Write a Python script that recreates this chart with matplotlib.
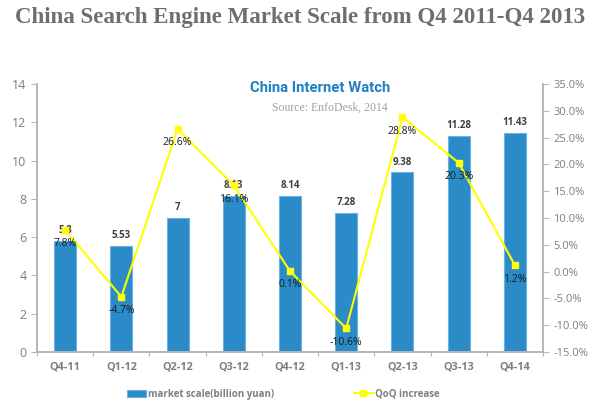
import matplotlib.pyplot as plt

# Data
quarters = ['Q4-11', 'Q1-12', 'Q2-12', 'Q3-12', 'Q4-12', 'Q1-13', 'Q2-13', 'Q3-13', 'Q4-14']
scale = [5.8, 5.53, 7, 8.13, 8.14, 7.28, 9.38, 11.28, 11.43]
scale_labels = ['5.8', '5.53', '7', '8.13', '8.14', '7.28', '9.38', '11.28', '11.43']
qoq = [7.8, -4.7, 26.6, 16.1, 0.1, -10.6, 28.8, 20.3, 1.2]
qoq_labels = ['7.8%', '-4.7%', '26.6%', '16.1%', '0.1%', '-10.6%', '28.8%', '20.3%', '1.2%']

BLUE = '#2a8bc8'
YELLOW = '#ffff00'
GREY = '#7f7f7f'
AXIS = '#b5b5b5'

plt.rcParams['font.family'] = ['Open Sans', 'DejaVu Sans']

fig = plt.figure(figsize=(6, 4.08), dpi=100)
ax = fig.add_axes([37 / 600, 1 - 352 / 408, 506 / 600, 268 / 408])
x = range(len(quarters))

ax.bar(x, scale, width=0.39, color=BLUE, edgecolor='#6db3df', linewidth=0.8, label='market scale(billion yuan)')
ax.set_xlim(-0.5, 8.5)
ax.set_ylim(0, 14)
ax.set_xticks([i - 0.5 for i in range(10)])
ax.set_xticklabels([])
ax.tick_params(axis='x', direction='out', length=3, color=AXIS)
ax.tick_params(axis='y', direction='out', length=4, color=AXIS, labelcolor=GREY, labelsize=9)
for i, q in enumerate(quarters):
    ax.annotate(q, (i, 0), xytext=(0, -11), textcoords='offset points', ha='center', va='center',
                fontsize=7.8, fontweight='bold', color=GREY)
for i, v in enumerate(scale):
    ax.annotate(scale_labels[i], (i, v), xytext=(0, 7.5), textcoords='offset points', ha='center', va='center',
                fontsize=7, fontweight='bold', color='#404040')

ax2 = ax.twinx()
ax2.plot(x, qoq, color=YELLOW, lw=1.5, marker='s', ms=4, label='QoQ increase')
ax2.set_ylim(-15, 35)
ax2.set_yticks(range(-15, 40, 5))
ax2.set_yticklabels([f'{t:.1f}%' for t in range(-15, 40, 5)])
ax2.tick_params(axis='y', direction='out', length=4, color=AXIS, labelcolor=GREY, labelsize=8)
for i, v in enumerate(qoq):
    ax2.annotate(qoq_labels[i], (i, v), xytext=(0, -10), textcoords='offset points', ha='center', va='center',
                 fontsize=7.5, color='#1a1a1a')

for a in (ax, ax2):
    a.spines['top'].set_visible(False)
    for side in ('left', 'right', 'bottom'):
        a.spines[side].set_color(AXIS)
        a.spines[side].set_linewidth(1.2)

fig.text(15 / 600, 1 - 18 / 408, 'China Search Engine Market Scale from Q4 2011-Q4 2013', family='Liberation Serif',
         fontweight='bold', fontsize=16.5, color='#6e6e6e', ha='left', va='center')
fig.text(320 / 600, 1 - 88 / 408, 'China Internet Watch', family='Roboto',
         fontweight='bold', fontsize=10.7, color='#1f7fc4', ha='center', va='center')
fig.text(330 / 600, 1 - 108 / 408, 'Source: EnfoDesk, 2014', family='Liberation Serif',
         fontsize=8.5, color='#a0a0a0', ha='center', va='center')

# Legend
h1, l1 = ax.get_legend_handles_labels()
h2, l2 = ax2.get_legend_handles_labels()
leg = fig.legend(h1 + h2, l1 + l2, loc='center left', bbox_to_anchor=(127 / 600, 1 - 394 / 408), ncol=2, frameon=False,
                 fontsize=7, columnspacing=8.2, handlelength=1.95, handletextpad=0.2, borderpad=0, borderaxespad=0)
for t in leg.get_texts():
    t.set_color(GREY)
    t.set_fontweight('bold')

fig.savefig('out.png', dpi=100)
